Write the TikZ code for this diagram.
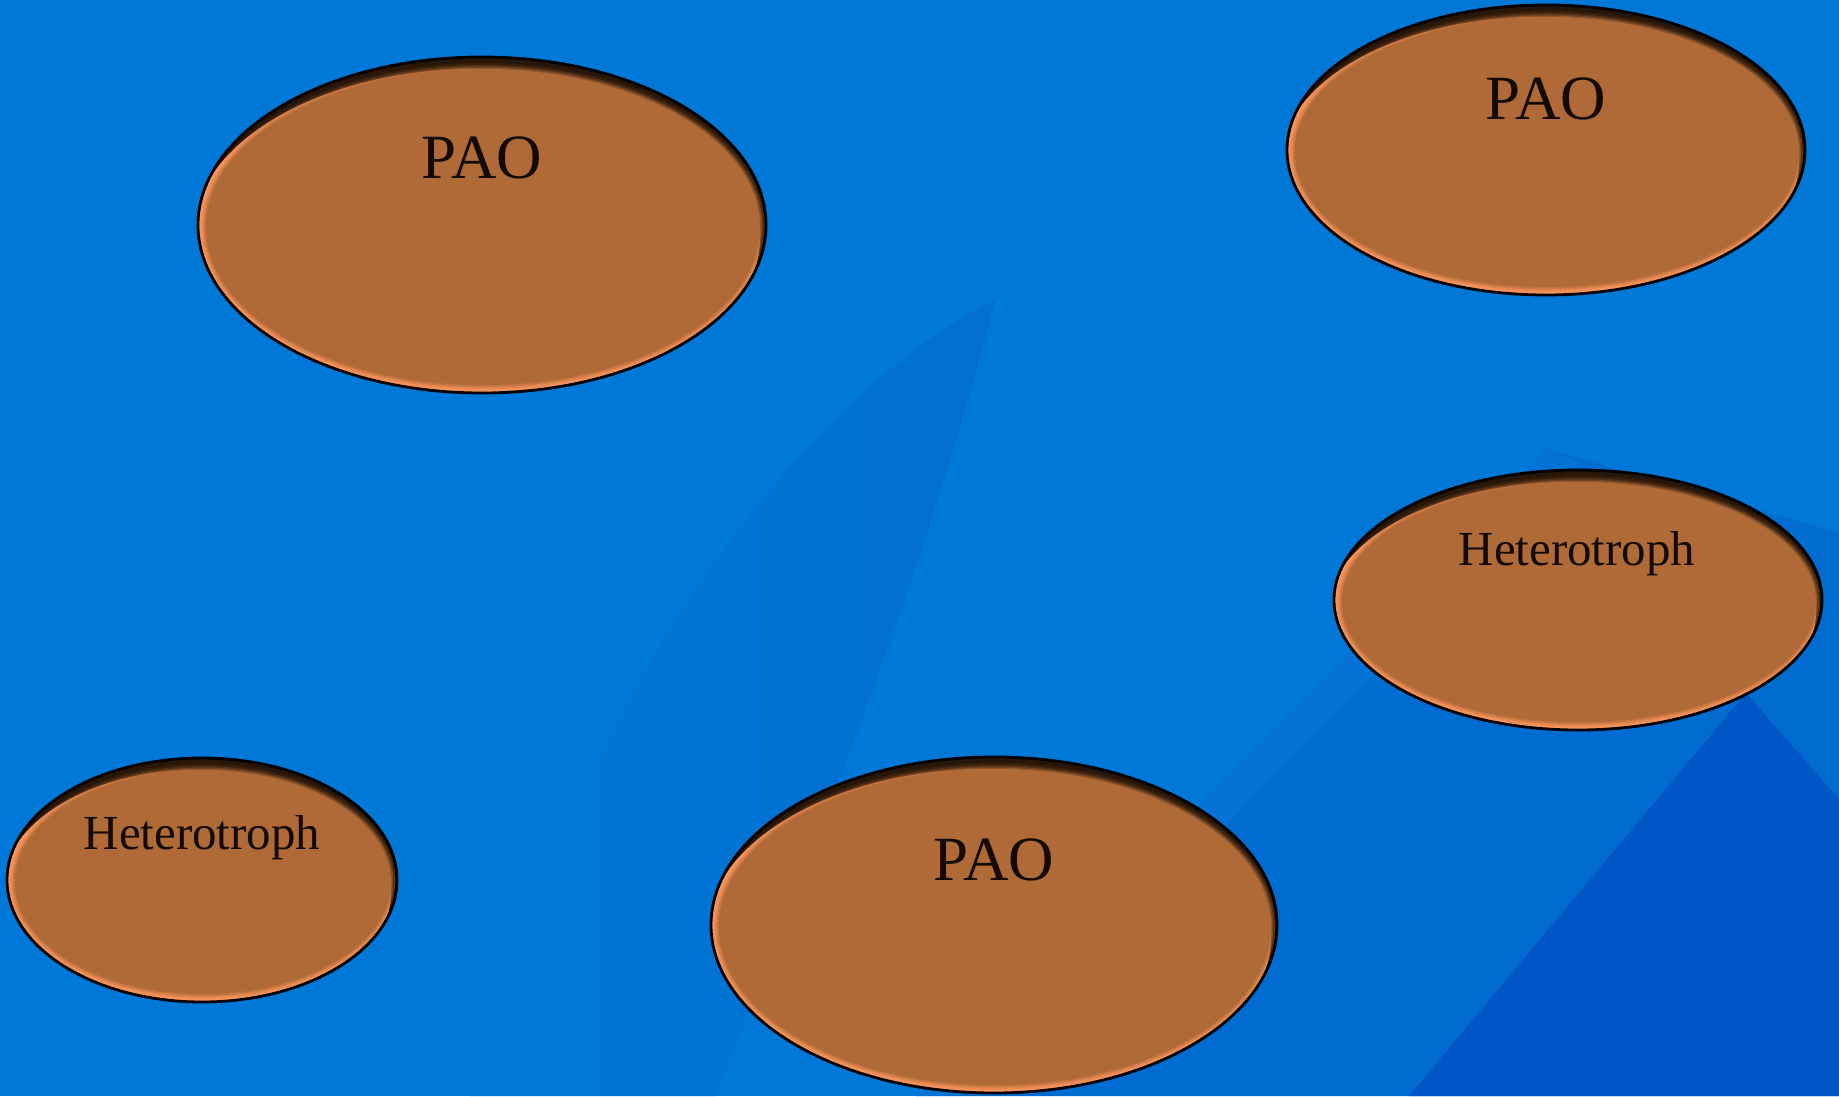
\documentclass[tikz,border=0pt]{standalone}
\usepackage{fontspec}
\setmainfont{Liberation Serif}
\usetikzlibrary{shapes.geometric,calc}

\definecolor{bgblue}{RGB}{0,120,216}
\definecolor{bgshade}{RGB}{0,110,210}
\definecolor{hillmid}{RGB}{0,108,210}
\definecolor{hilledge}{RGB}{20,132,222}
\definecolor{hilldark}{RGB}{0,86,196}
\definecolor{cellfill}{RGB}{176,106,56}
\definecolor{rimdark}{RGB}{40,22,8}
\definecolor{rimlight}{RGB}{252,150,92}
\definecolor{inkcol}{RGB}{20,10,4}

\tikzset{
  % bevelled ellipse: #1 = x radius, #2 = y radius (in picture units)
  cell/.style 2 args={
    ellipse, inner sep=0pt, draw=black, line width=1.4pt,
    minimum width=#1pt, minimum height=#2pt, fill=rimdark,
    path picture={
      \fill[rimlight] ([shift={(-6,12)}]path picture bounding box.center)
        ellipse ({#1} and {#2});
      \foreach \g/\o in {6/0.12, 4/0.22, 2.5/0.35, 1.2/0.5}{
        \fill[cellfill, opacity=\o] ([shift={(1,2)}]path picture bounding box.center)
          ellipse ({#1-7+\g} and {#2-10+\g});
      }
      \fill[cellfill] ([shift={(1,2)}]path picture bounding box.center)
        ellipse ({#1-7} and {#2-10});
    }
  },
  biglbl/.style={anchor=base, text=inkcol, inner sep=0pt,
    font=\fontsize{31.5}{36}\selectfont},
  smalllbl/.style={anchor=base, text=inkcol, inner sep=0pt,
    font=\fontsize{24.5}{28}\selectfont},
}

\begin{document}
\begin{tikzpicture}[x=0.5pt, y=-0.5pt]
\useasboundingbox (0,0) rectangle (1839,1096);

% background with a faint sweep and a hill at the lower right
\fill[bgblue] (0,0) rectangle (1839,1096);
\begin{scope}
  \clip (470,1096) .. controls (560,760) and (760,420) .. (995,300)
        .. controls (930,560) and (810,860) .. (715,1096) -- cycle;
  \shade[left color=bgblue, right color=bgshade] (470,300) rectangle (995,1096);
\end{scope}
\fill[hillmid] (1546,449) -- (1839,533) -- (1839,1096) -- (916,1096) -- cycle;
\fill[hilledge, opacity=0.25] (1546,449) -- (1580,462) -- (960,1096) -- (916,1096) -- cycle;
\fill[hilldark] (1746,693) -- (1839,799) -- (1839,1096) -- (1409,1096) -- cycle;

% cells
\node[cell={284}{168}] (paoA) at (482,225) {};
\node[cell={259}{145}] (paoB) at (1546,150) {};
\node[cell={244}{130}] (hetA) at (1578,600) {};
\node[cell={195}{122}] (hetB) at (202,880) {};
\node[cell={283}{168}] (paoC) at (994,925) {};

% labels
\node[biglbl] (paoAtxt) at (482,179) {PAO};
\node[biglbl] (paoBtxt) at (1546,120) {PAO};
\node[smalllbl] (hetAtxt) at (1577,565) {Heterotroph};
\node[smalllbl] (hetBtxt) at (202,849) {Heterotroph};
\node[biglbl] (paoCtxt) at (994,880) {PAO};
\end{tikzpicture}
\end{document}
